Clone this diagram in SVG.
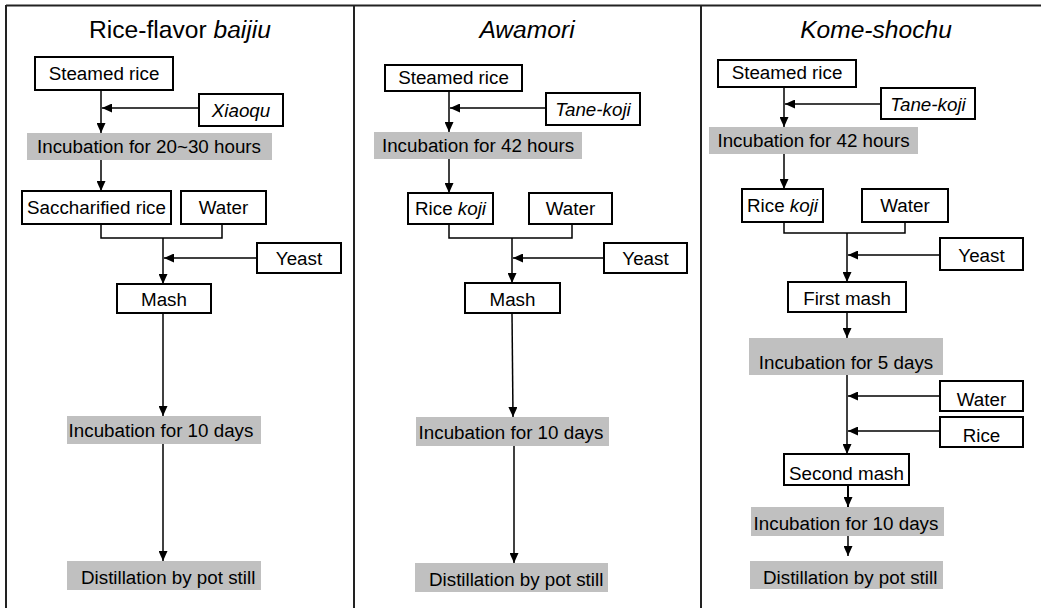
<svg xmlns="http://www.w3.org/2000/svg" width="1041" height="608" viewBox="0 0 1041 608">
<defs>
<marker id="ah" markerUnits="userSpaceOnUse" markerWidth="10" markerHeight="9" refX="10" refY="4.5" orient="auto"><path d="M0,0 L10,4.5 L0,9 z" fill="#000"/></marker>
<style>
.b{fill:#fff;stroke:#000;stroke-width:2}
.g{fill:#c0c0c0;stroke:none}
.t{font-family:"Liberation Sans",Arial,sans-serif;font-size:18.8px;fill:#000}
.c{text-anchor:middle}
.i{font-style:italic}
.h{font-family:"Liberation Sans",Arial,sans-serif;font-size:24.6px;fill:#000;text-anchor:middle}
.l{fill:none;stroke:#000;stroke-width:1.5}
.a{fill:none;stroke:#000;stroke-width:1.5;marker-end:url(#ah)}
.fr{stroke:#222;stroke-width:2;fill:none}
</style>
</defs>
<rect width="1041" height="608" fill="#fff"/>
<g id="frame">
<path class="fr" d="M6,5.5 H1041 M6,5 V608 M354,5 V608 M701,5 V608"/>
</g>
<g id="titles">
<text class="h" x="180" y="38">Rice-flavor <tspan class="i">baijiu</tspan></text>
<text class="h i" x="527" y="38">Awamori</text>
<text class="h i" x="876" y="38">Kome-shochu</text>
</g>
<!-- Column 1 -->
<g id="c1-steamed"><rect class="b" x="35" y="57" width="138" height="33"/><text class="t c" x="104" y="80">Steamed rice</text></g>
<g id="c1-xiaoqu"><rect class="b" x="199" y="94" width="84" height="32"/><text class="t c i" x="241" y="117">Xiaoqu</text></g>
<g id="c1-inc1"><rect class="g" x="27" y="133" width="245" height="27"/><text class="t c" x="149" y="153">Incubation for 20~30 hours</text></g>
<g id="c1-sacch"><rect class="b" x="22" y="191" width="149" height="33"/><text class="t c" x="96.5" y="214">Saccharified rice</text></g>
<g id="c1-water"><rect class="b" x="181" y="191" width="85" height="33"/><text class="t c" x="223.5" y="214">Water</text></g>
<g id="c1-yeast"><rect class="b" x="257" y="243" width="84" height="30"/><text class="t c" x="299" y="265">Yeast</text></g>
<g id="c1-mash"><rect class="b" x="117" y="284" width="94" height="29"/><text class="t c" x="164" y="306">Mash</text></g>
<g id="c1-inc2"><rect class="g" x="67" y="416" width="194" height="28"/><text class="t c" x="161" y="437">Incubation for 10 days</text></g>
<g id="c1-dist"><rect class="g" x="67" y="561" width="194" height="29"/><text class="t" x="81" y="584">Distillation by pot still</text></g>
<!-- Column 2 -->
<g id="c2-steamed"><rect class="b" x="385" y="65" width="137" height="26"/><text class="t c" x="453.5" y="84">Steamed rice</text></g>
<g id="c2-tane"><rect class="b" x="546" y="93" width="94" height="32"/><text class="t c i" x="593" y="116">Tane-koji</text></g>
<g id="c2-inc1"><rect class="g" x="374" y="132" width="208" height="27"/><text class="t c" x="478" y="152">Incubation for 42 hours</text></g>
<g id="c2-koji"><rect class="b" x="408" y="193" width="85" height="31"/><text class="t c" x="450.5" y="215">Rice <tspan class="i">koji</tspan></text></g>
<g id="c2-water"><rect class="b" x="529" y="193" width="83" height="31"/><text class="t c" x="570.5" y="215">Water</text></g>
<g id="c2-yeast"><rect class="b" x="604" y="243" width="83" height="30"/><text class="t c" x="645.5" y="265">Yeast</text></g>
<g id="c2-mash"><rect class="b" x="465" y="283" width="95" height="30"/><text class="t c" x="512.5" y="306">Mash</text></g>
<g id="c2-inc2"><rect class="g" x="416" y="417" width="193" height="29"/><text class="t c" x="511" y="439">Incubation for 10 days</text></g>
<g id="c2-dist"><rect class="g" x="415" y="563" width="193" height="29"/><text class="t" x="429" y="586">Distillation by pot still</text></g>
<!-- Column 3 -->
<g id="c3-steamed"><rect class="b" x="718" y="60" width="138" height="27"/><text class="t c" x="787" y="79">Steamed rice</text></g>
<g id="c3-tane"><rect class="b" x="881" y="88" width="94" height="31"/><text class="t c i" x="928" y="111">Tane-koji</text></g>
<g id="c3-inc1"><rect class="g" x="709" y="127" width="209" height="27"/><text class="t c" x="813.5" y="147">Incubation for 42 hours</text></g>
<g id="c3-koji"><rect class="b" x="742" y="189" width="81" height="33"/><text class="t c" x="782.5" y="212">Rice <tspan class="i">koji</tspan></text></g>
<g id="c3-water"><rect class="b" x="862" y="189" width="86" height="33"/><text class="t c" x="905" y="212">Water</text></g>
<g id="c3-yeast"><rect class="b" x="940" y="238" width="83" height="32"/><text class="t c" x="981.5" y="262">Yeast</text></g>
<g id="c3-mash1"><rect class="b" x="788" y="282" width="118" height="30"/><text class="t c" x="847" y="305">First mash</text></g>
<g id="c3-inc2"><rect class="g" x="749" y="338" width="194" height="37"/><text class="t c" x="846" y="369">Incubation for 5 days</text></g>
<g id="c3-water2"><rect class="b" x="940" y="381" width="83" height="30"/><text class="t c" x="981.5" y="406">Water</text></g>
<g id="c3-rice"><rect class="b" x="940" y="417" width="83" height="30"/><text class="t c" x="981.5" y="442">Rice</text></g>
<g id="c3-mash2"><rect class="b" x="784" y="454" width="125" height="31"/><text class="t c" x="846.5" y="480">Second mash</text></g>
<g id="c3-inc3"><rect class="g" x="751" y="507" width="193" height="29"/><text class="t c" x="846" y="530">Incubation for 10 days</text></g>
<g id="c3-dist"><rect class="g" x="750" y="561" width="193" height="28"/><text class="t" x="763" y="584">Distillation by pot still</text></g>
<g id="connectors">
<path class="a" d="M101,90 V133"/>
<path class="a" d="M199,108 H102"/>
<path class="a" d="M101,160 V191"/>
<path class="l" d="M101,224 V238 H222 V224"/>
<path class="a" d="M163,238 V284"/>
<path class="a" d="M257,258 H164"/>
<path class="a" d="M163,313 V416"/>
<path class="a" d="M163,444 V561"/>
<path class="a" d="M449,91 V132"/>
<path class="a" d="M546,108 H450"/>
<path class="a" d="M449,159 V193"/>
<path class="l" d="M449,224 V238 H572 V224"/>
<path class="a" d="M512,238 V283"/>
<path class="a" d="M604,258 H513"/>
<path class="a" d="M512,313 L513,417"/>
<path class="a" d="M514,446 V563"/>
<path class="a" d="M784,87 V127"/>
<path class="a" d="M881,104 H785"/>
<path class="a" d="M784,154 V189"/>
<path class="l" d="M784,222 V233 H905 V222"/>
<path class="a" d="M847,233 V282"/>
<path class="a" d="M940,255 H848"/>
<path class="a" d="M847,312 V338"/>
<path class="a" d="M847,375 V454"/>
<path class="a" d="M940,396 H848"/>
<path class="a" d="M940,431 H848"/>
<path class="a" d="M848,485 V507" style="stroke-width:2"/>
<path class="a" d="M848,536 V556"/>
</g>
</svg>
